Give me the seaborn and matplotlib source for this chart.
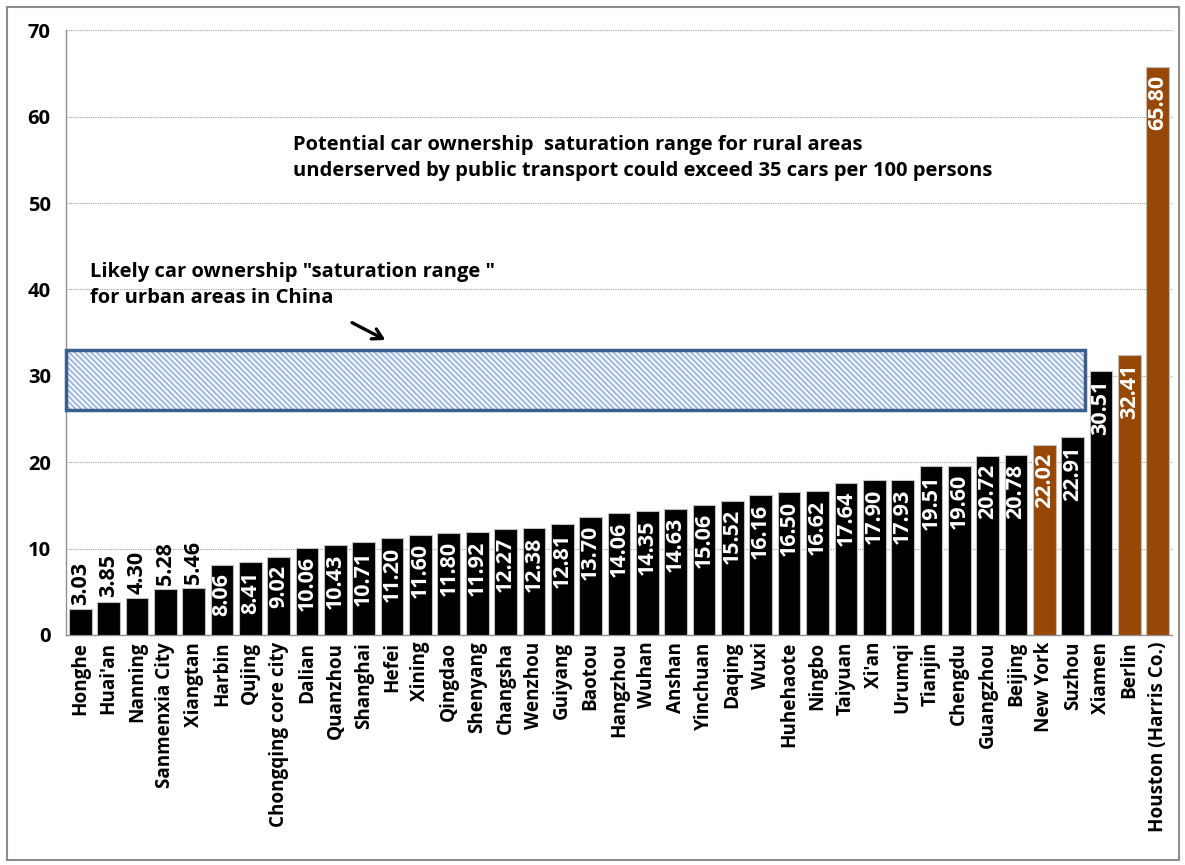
import matplotlib
matplotlib.use("Agg")
import matplotlib.pyplot as plt
import seaborn as sns
import numpy as np
from matplotlib.patches import Rectangle

cities = ["Honghe", "Huai'an", "Nanning", "Sanmenxia City", "Xiangtan", "Harbin", "Qujing",
          "Chongqing core city", "Dalian", "Quanzhou", "Shanghai", "Hefei", "Xining", "Qingdao",
          "Shenyang", "Changsha", "Wenzhou", "Guiyang", "Baotou", "Hangzhou", "Wuhan", "Anshan",
          "Yinchuan", "Daqing", "Wuxi", "Huhehaote", "Ningbo", "Taiyuan", "Xi'an", "Urumqi",
          "Tianjin", "Chengdu", "Guangzhou", "Beijing", "New York", "Suzhou", "Xiamen", "Berlin",
          "Houston (Harris Co.)"]
values = [3.03, 3.85, 4.30, 5.28, 5.46, 8.06, 8.41, 9.02, 10.06, 10.43, 10.71, 11.20, 11.60, 11.80,
          11.92, 12.27, 12.38, 12.81, 13.70, 14.06, 14.35, 14.63, 15.06, 15.52, 16.16, 16.50, 16.62,
          17.64, 17.90, 17.93, 19.51, 19.60, 20.72, 20.78, 22.02, 22.91, 30.51, 32.41, 65.80]
foreign = ["New York", "Berlin", "Houston (Harris Co.)"]
yticks = [0, 10, 20, 30, 40, 50, 60, 70]
band_low, band_high = 26, 33

BROWN = "#984806"
colors = [BROWN if c in foreign else "black" for c in cities]

sns.set_style("white")
plt.rcParams['font.family'] = ['Open Sans', 'DejaVu Sans']
plt.rcParams['text.color'] = "black"
plt.rcParams['xtick.labelcolor'] = "black"
plt.rcParams['ytick.labelcolor'] = "black"
plt.rcParams['hatch.color'] = "#8FAAD6"
plt.rcParams['hatch.linewidth'] = 1.0

fig = plt.figure(figsize=(11.85, 8.65), dpi=100)
ax = fig.add_axes([0.0557, 0.266, 0.9333, 0.699])

sns.barplot(x=cities, y=values, hue=cities, palette=colors, legend=False, ax=ax,
            width=0.8, edgecolor="#BFBFBF", linewidth=0.8, saturation=1, zorder=3)

ax.set_xlim(-0.5, len(cities) - 0.5)
ax.set_ylim(0, 70)
ax.set_yticks(yticks)
ax.set_yticklabels([str(t) for t in yticks], fontsize=14.5, fontweight="bold", color="black")
ax.yaxis.grid(True, color="#A0A0A0", linestyle=(0, (1, 1)), linewidth=0.8, zorder=0)
ax.xaxis.grid(False)
ax.set_xticks(range(len(cities)))
ax.set_xticklabels(cities, rotation=90, fontsize=13.6, fontweight="bold", color="black")
ax.set_xticks(np.arange(-0.5, len(cities), 1), minor=True)
ax.tick_params(axis="x", which="major", length=0, pad=5)
ax.tick_params(axis="x", which="minor", length=7, color="#A0A0A0", direction="out")
ax.tick_params(axis="y", length=7, color="#A0A0A0", direction="out", pad=4)
for s in ["top", "right"]:
    ax.spines[s].set_visible(False)
for s in ["left", "bottom"]:
    ax.spines[s].set_color("#909090")
    ax.spines[s].set_linewidth(1.0)

# value labels
for i, v in enumerate(values):
    if v >= 7:
        ax.annotate(f"{v:.2f}", (i, v), xytext=(0, -6), textcoords="offset points",
                    rotation=90, ha="center", va="top", color="white",
                    fontsize=15.5, fontweight="bold", zorder=5)
    else:
        ax.annotate(f"{v:.2f}", (i, v), xytext=(0, 3), textcoords="offset points",
                    rotation=90, ha="center", va="bottom", color="black",
                    fontsize=15.5, fontweight="bold", zorder=5)

# saturation band
ax.add_patch(Rectangle((-0.5, band_low), 35.93, band_high - band_low, facecolor="#EEF3FA",
                       edgecolor="#8FAAD6", hatch="\\\\\\\\\\\\", linewidth=0, zorder=2))
ax.add_patch(Rectangle((-0.5, band_low), 35.93, band_high - band_low, facecolor="none",
                       edgecolor="#3B6090", linewidth=2.5, zorder=4, clip_on=False))

ax.text(7.5, 55.2, "Potential car ownership  saturation range for rural areas\n"
        "underserved by public transport could exceed 35 cars per 100 persons",
        fontsize=14.5, fontweight="bold", ha="left", va="center", linespacing=1.45, zorder=6,
        color="black")
ax.text(0.35, 40.5, "Likely car ownership \"saturation range \"\nfor urban areas in China",
        fontsize=14.5, fontweight="bold", ha="left", va="center", linespacing=1.45, zorder=6,
        color="black")
ax.annotate("", xy=(10.85, 34.0), xytext=(9.5, 36.3),
            arrowprops=dict(arrowstyle="->,head_length=0.7,head_width=0.4", color="black",
                            lw=2.4), zorder=6)

fig.patches.append(Rectangle((0.006, 0.006), 0.989, 0.986, transform=fig.transFigure,
                             fill=False, edgecolor="#8C8C8C", linewidth=1.5))

fig.savefig("out.png", dpi=100)
